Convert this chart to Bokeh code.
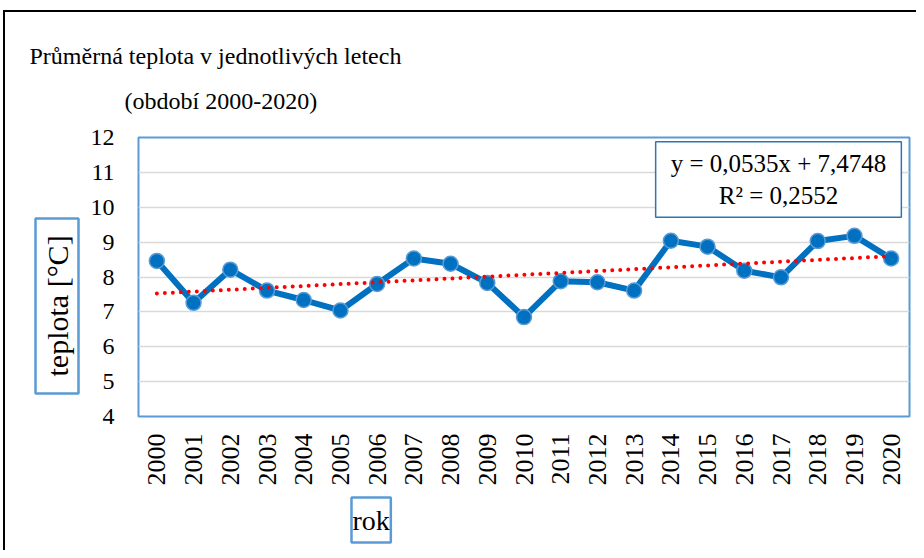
import math
from bokeh.plotting import figure
from bokeh.models import FactorRange, Label, FixedTicker, Range1d, Title
from bokeh.embed import file_html
from bokeh.resources import INLINE

# ---- data ----
years = ["2000", "2001", "2002", "2003", "2004", "2005", "2006", "2007", "2008", "2009",
         "2010", "2011", "2012", "2013", "2014", "2015", "2016", "2017", "2018", "2019", "2020"]
temps = [8.46, 7.26, 8.21, 7.61, 7.34, 7.04, 7.80, 8.53, 8.38, 7.83,
         6.85, 7.88, 7.85, 7.61, 9.04, 8.87, 8.18, 7.99, 9.03, 9.18, 8.53]
y_ticks = [4, 5, 6, 7, 8, 9, 10, 11, 12]
trend_slope = 0.0535
trend_intercept = 7.4748
title_line1 = "Průměrná teplota v jednotlivých letech"
title_line2 = "(období 2000-2020)"
y_label = "teplota [°C]"
x_label = "rok"
eq_text = "y = 0,0535x + 7,4748\nR² = 0,2552"

FONT = "Liberation Serif"
W, H = 916, 550
FL, FT, FR, FB = 135, 137, 909, 416   # frame edges in figure pixels

p = figure(width=W, height=H, x_range=FactorRange(*years), y_range=Range1d(4, 12),
           output_backend="svg", toolbar_location=None, title=None,
           min_border_left=FL, min_border_right=W - FR, min_border_top=FT,
           min_border_bottom=H - FB)
# outer black frame (left and top edges) drawn as CSS background behind a transparent canvas
p.styles = {"background": "linear-gradient(#000,#000) 3px 10px / 2px 100% no-repeat, "
                          "linear-gradient(#000,#000) 3px 10px / 100% 2px no-repeat, #fff"}
p.background_fill_color = "white"
p.border_fill_color = None
p.outline_line_color = "#5B9BD5"
p.outline_line_width = 2

p.xgrid.grid_line_color = None
p.ygrid.grid_line_color = "#D9D9D9"
p.ygrid.grid_line_width = 1.5
p.yaxis.ticker = FixedTicker(ticks=y_ticks)

for ax in (p.xaxis[0], p.yaxis[0]):
    ax.axis_line_color = None
    ax.major_tick_line_color = None
    ax.minor_tick_line_color = None
    ax.major_label_text_font = FONT
    ax.major_label_text_color = "black"

p.yaxis.major_label_text_font_size = "24px"
p.yaxis.major_label_standoff = 18
p.xaxis.major_label_text_font_size = "26px"
p.xaxis.major_label_orientation = math.pi / 2
p.xaxis.major_label_standoff = 11

# data line + markers
p.line(years, temps, line_color="#0070C0", line_width=6, line_join="round")
p.scatter(years, temps, size=15, fill_color="#0070C0", line_color="#5B9BD5", line_width=1.5)

# linear trend line (from the chart's equation)
tx = [years[0], years[-1]]
ty = [trend_intercept + trend_slope * 1, trend_intercept + trend_slope * len(years)]
p.line(tx, ty, line_color="#FF0000", line_width=4, line_dash="0 8", line_cap="round")

# titles (above the frame)
p.add_layout(Title(text=title_line2, align="left", offset=-14, standoff=47,
                   text_font=FONT, text_font_size="24px", text_font_style="normal",
                   text_color="black"), "above")
p.add_layout(Title(text=title_line1, align="left", offset=-109, standoff=-13,
                   text_font=FONT, text_font_size="24px", text_font_style="normal",
                   text_color="black"), "above")

# axis titles with boxes
p.add_layout(Title(text=y_label, align="left", offset=23, standoff=18,
                   text_font=FONT, text_font_size="30px", text_font_style="normal",
                   text_color="black", border_line_color="#5B9BD5", border_line_width=2.5,
                   background_fill_color="white",
                   padding={"left": 17, "right": 17, "top": 5, "bottom": 5}), "left")
p.add_layout(Title(text=x_label, align="left", offset=213, standoff=14,
                   text_font=FONT, text_font_size="28px", text_font_style="normal",
                   text_color="black", border_line_color="#5B9BD5", border_line_width=2.5,
                   background_fill_color="white",
                   padding={"left": 1, "right": 1, "top": 7, "bottom": 7}), "below")

# regression equation box inside the frame
p.add_layout(Label(x=775 - FL, y=FB - 179, x_units="screen", y_units="screen", text=eq_text,
                   text_font=FONT, text_font_size="25px",
                   text_align="center", text_baseline="middle", text_color="black",
                   border_line_color="#2E75B6", border_line_width=1.5,
                   background_fill_color="white",
                   padding={"left": 15, "right": 15, "top": 8, "bottom": 8}))

open("out.html", "w").write(file_html(p, INLINE))
